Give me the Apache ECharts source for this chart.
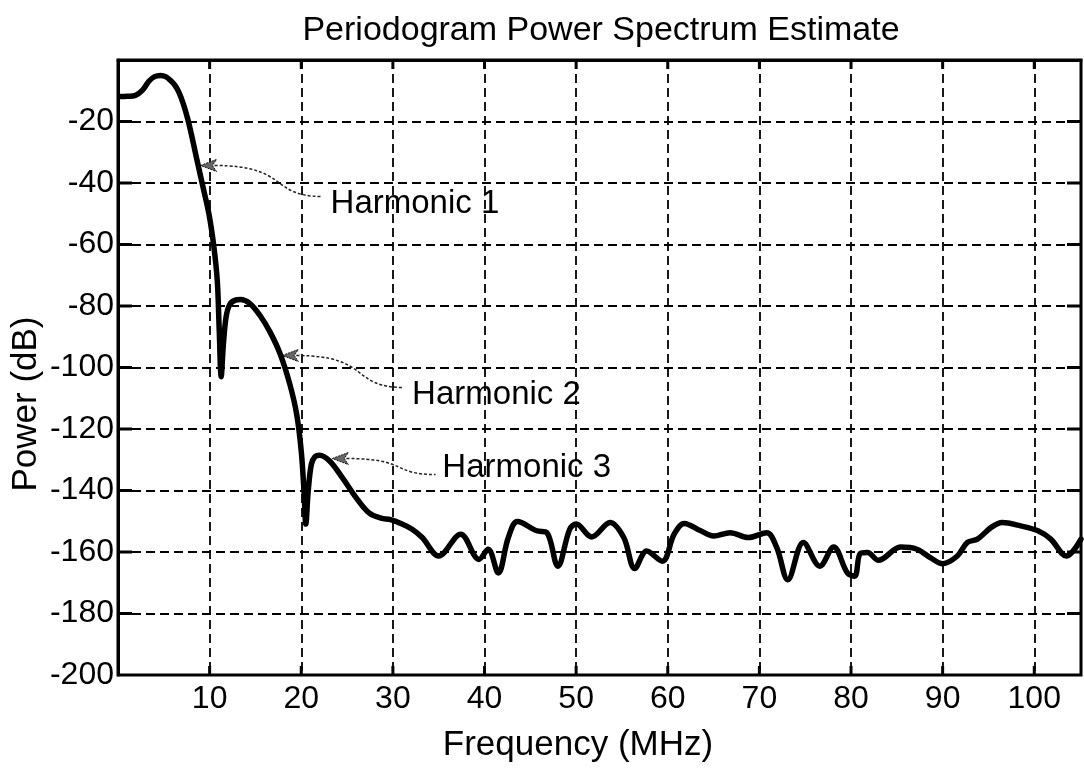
<!DOCTYPE html>
<html>
<head>
<meta charset="utf-8">
<title>Periodogram Power Spectrum Estimate</title>
<script src="https://cdn.jsdelivr.net/npm/echarts@6/dist/echarts.min.js"></script>
<style>
    html, body {
        margin: 0;
        padding: 0;
        background: #fff;
    }
    #chart {
        width: 1084px;
        height: 773px;
    }
</style>
</head>
<body>
<div id="chart"></div>
<script>
// frequency (MHz)
let freq = [
    0.3, 1.0, 1.9, 2.65, 3.37, 4.0, 4.65, 5.2, 5.74, 6.2,
    6.65, 7.1, 7.56, 8.0, 8.47, 9.2, 9.92, 10.47, 10.84, 11.05,
    11.26, 11.5, 11.8, 12.2, 12.8, 13.35, 14.4, 15.5, 16.6, 17.7,
    18.75, 19.5, 20.0, 20.3, 20.5, 20.75, 21.1, 21.5, 22.0, 23.1,
    24.5, 26.0, 27.4, 28.7, 29.75, 31.0, 32.1, 33.2, 35.0, 37.4,
    39.4, 40.4, 41.5, 42.6, 43.6, 45.7, 46.8, 48.0, 49.3, 50.0,
    51.7, 53.7, 55.2, 56.4, 57.7, 59.4, 60.7, 61.8, 63.6, 65.0,
    66.8, 68.8, 70.8, 71.9, 73.1, 74.8, 76.6, 78.1, 79.6, 80.4,
    81.0, 81.8, 83.0, 85.4, 87.2, 88.7, 90.0, 91.6, 92.7, 93.8,
    95.3, 96.5, 98.5, 100.4, 101.8, 103.5, 105.1
]
// power (dB)
let power = [
    -11.9, -11.8, -11.5, -9.9, -6.9, -5.4, -5.0, -5.4, -6.7, -8.2,
    -10.5, -14.0, -18.6, -24.0, -30.5, -40.3, -50.0, -60.9, -72.0, -88.0,
    -103.0, -92.5, -83.5, -79.5, -78.1, -77.9, -79.2, -83.1, -88.5, -95.6,
    -105.4, -115.2, -127.2, -140.2, -150.9, -140.5, -131.5, -129.0, -128.5, -130.4,
    -135.9, -142.4, -147.3, -149.0, -149.5, -150.9, -152.6, -155.3, -161.3, -154.2,
    -162.4, -159.1, -166.8, -155.3, -150.1, -153.1, -153.7, -164.6, -152.6, -150.9,
    -155.1, -150.4, -155.3, -165.4, -159.7, -163.0, -154.2, -150.7, -153.1, -154.8,
    -153.7, -155.3, -153.7, -158.6, -169.0, -156.9, -164.6, -158.4, -166.8, -167.9,
    -160.5, -160.2, -162.7, -158.4, -159.1, -161.9, -163.8, -161.3, -156.9, -155.8,
    -152.0, -150.4, -151.5, -153.1, -155.8, -161.3, -155.8
]

// tick values for the inward box ticks
let xTicks = [10, 20, 30, 40, 50, 60, 70, 80, 90, 100]
let yTicks = [-20, -40, -60, -80, -100, -120, -140, -160, -180]

// annotations: arrow tip, end of the leader line, text anchor (data coords)
let noteText = ['Harmonic 1', 'Harmonic 2', 'Harmonic 3']
let noteTip = [[9.0, -34.3], [17.93, -96.1], [23.39, -129.6]]
let noteEnd = [[22.33, -44.4], [31.17, -106.5], [34.66, -134.8]]
let noteAt = [[23.2, -46.7], [32.1, -108.9], [35.4, -132.5]]

let xMin = 0, xMax = 105.1, yMin = -200, yMax = 0

let font = '"Liberation Sans", Arial, Helvetica, sans-serif'

let myChart = echarts.init(document.getElementById('chart'))

let gridStyle = { color: '#000', width: 1.8, type: [9, 5] }

let option = {
    backgroundColor: '#fff',
    animation: false,
    grid: {
        left: 118,
        right: 3,
        top: 60,
        bottom: 98,
        show: true,
        borderColor: '#000',
        borderWidth: 3,
        containLabel: false
    },
    xAxis: {
        type: 'value',
        min: xMin,
        max: xMax,
        interval: 10,
        axisLine: { show: true, lineStyle: { color: '#000', width: 3 } },
        axisTick: { show: false },
        axisLabel: {
            color: '#000',
            fontSize: 32,
            fontFamily: font,
            margin: 8,
            showMaxLabel: false,
            formatter: v => (v === 0 ? '' : v)
        },
        splitLine: { show: true, lineStyle: gridStyle }
    },
    yAxis: {
        type: 'value',
        min: yMin,
        max: yMax,
        interval: 20,
        axisLine: { show: true, lineStyle: { color: '#000', width: 3 } },
        axisTick: { show: false },
        axisLabel: {
            color: '#000',
            fontSize: 32,
            fontFamily: font,
            margin: 4,
            formatter: v => (v === 0 ? '' : v)
        },
        splitLine: { show: true, lineStyle: gridStyle }
    },
    series: [
        {
            name: 'Power',
            type: 'line',
            data: freq.map((f, i) => [f, power[i]]),
            showSymbol: false,
            smooth: 0.35,
            clip: true,
            lineStyle: { color: '#000', width: 5.5, join: 'round', cap: 'round' }
        }
    ]
}
myChart.setOption(option)

// text, ticks and leader arrows, placed through the grid's own scales
function px(p) {
    return myChart.convertToPixel({ gridIndex: 0 }, p)
}

function label(text, x, y, size, rot) {
    return {
        type: 'text',
        x: x,
        y: y,
        rotation: rot || 0,
        style: {
            text: text,
            font: size + 'px ' + font,
            fill: '#000',
            align: 'center',
            verticalAlign: 'middle'
        }
    }
}

function seg(x1, y1, x2, y2) {
    return {
        type: 'line',
        shape: { x1: x1, y1: y1, x2: x2, y2: y2 },
        style: { stroke: '#000', lineWidth: 3 }
    }
}

let graphics = []
graphics.push(label('Periodogram Power Spectrum Estimate', 601, 31, 34))
graphics.push(label('Frequency (MHz)', 578, 745, 35))
graphics.push(label('Power (dB)', 26, 404, 35, Math.PI / 2))

// inward ticks on all four sides
let yTop = px([xMin, yMax])[1]
let yBot = px([xMin, yMin])[1]
let xLeft = px([xMin, yMin])[0]
let xRight = px([xMax, yMin])[0]
xTicks.forEach(v => {
    let x = px([v, yMin])[0]
    graphics.push(seg(x, yBot, x, yBot - 9))
    graphics.push(seg(x, yTop, x, yTop + 9))
})
yTicks.forEach(v => {
    let y = px([xMin, v])[1]
    graphics.push(seg(xLeft, y, xLeft + 14, y))
    graphics.push(seg(xRight, y, xRight - 14, y))
})

noteText.forEach((t, i) => {
    let tip = px(noteTip[i])
    let end = px(noteEnd[i])
    let at = px(noteAt[i])
    let x0 = tip[0] + 14
    let dx = end[0] - x0
    graphics.push({
        type: 'bezierCurve',
        shape: {
            x1: x0, y1: tip[1],
            cpx1: x0 + 0.7 * dx, cpy1: tip[1],
            cpx2: x0 + 0.5 * dx, cpy2: end[1],
            x2: end[0], y2: end[1]
        },
        style: { stroke: '#222', lineWidth: 1.5, lineDash: [3, 2], fill: null }
    })
    graphics.push({
        type: 'polygon',
        shape: {
            points: [
                [tip[0], tip[1]],
                [tip[0] + 16, tip[1] - 6],
                [tip[0] + 12, tip[1]],
                [tip[0] + 16, tip[1] + 6]
            ]
        },
        style: { fill: '#666', stroke: '#111', lineWidth: 1, lineDash: [2, 1] }
    })
    graphics.push({
        type: 'text',
        x: at[0],
        y: at[1],
        style: {
            text: t,
            font: '33px ' + font,
            fill: '#000',
            align: 'left',
            verticalAlign: 'middle'
        }
    })
})

myChart.setOption({ graphic: graphics })
</script>
</body>
</html>
